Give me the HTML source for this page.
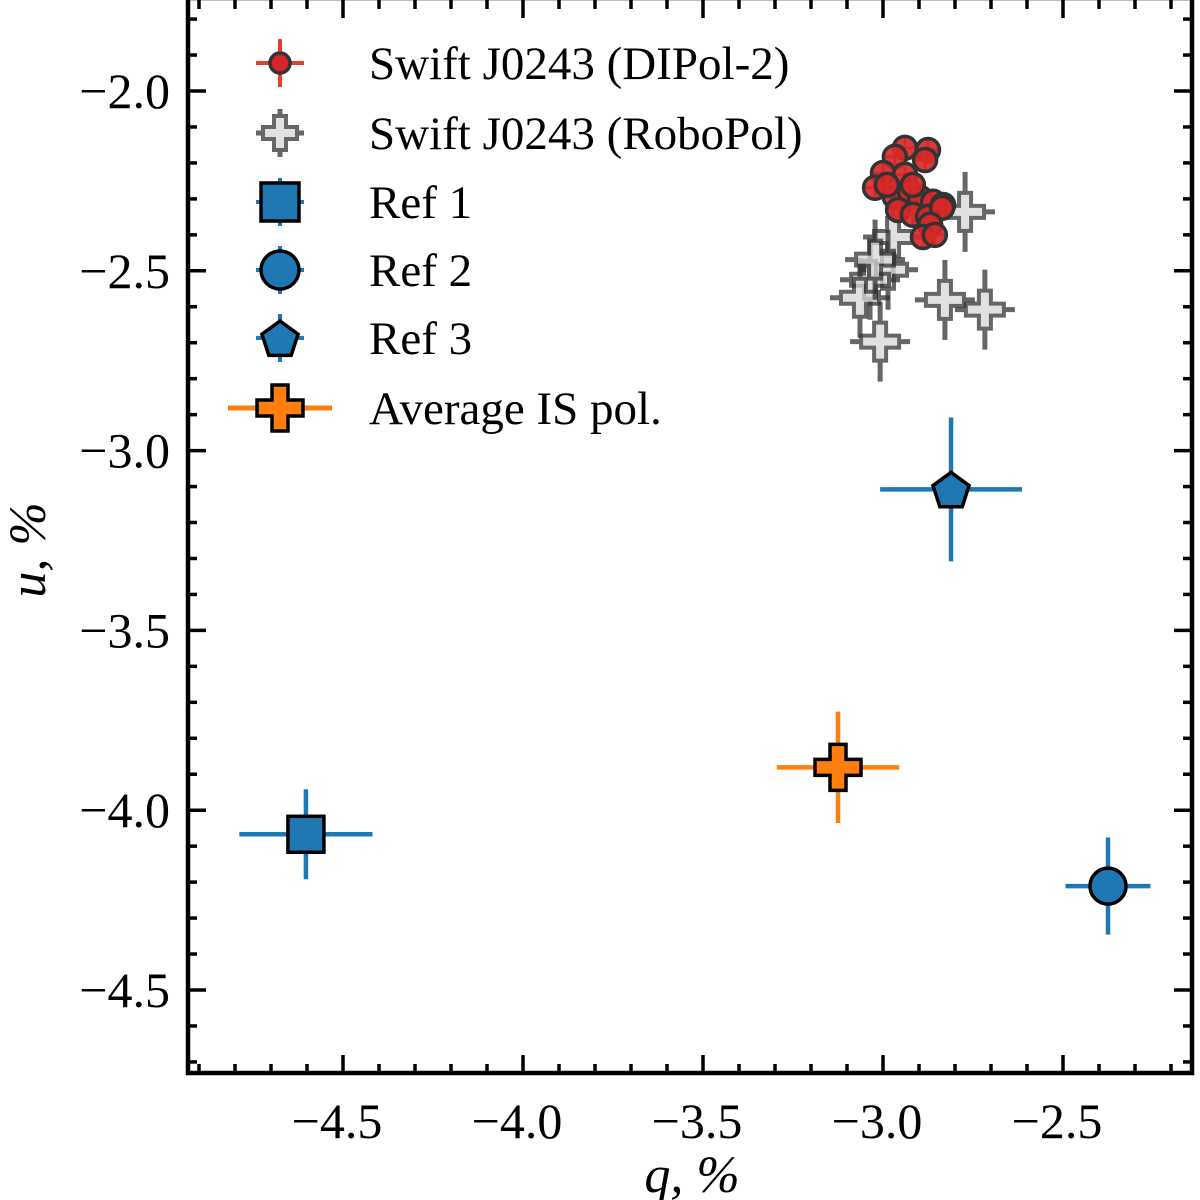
<!DOCTYPE html>
<html><head><meta charset="utf-8"><style>
html,body{margin:0;padding:0;background:#fff;}
svg{display:block;font-family:"Liberation Serif",serif;}
</style></head><body>
<svg id="chart" width="1200" height="1200" viewBox="0 0 1200 1200"></svg>
<script>
const dipolQ=[-2.939,-2.967,-2.875,-2.883,-3.0,-3.022,-2.939,-2.967,-2.925,-2.897,-2.861,-2.833,-2.958,-2.917,-2.875,-2.836,-2.869,-2.889,-2.856,-2.989,-2.917];
const dipolU=[-2.158,-2.183,-2.164,-2.192,-2.228,-2.269,-2.233,-2.294,-2.281,-2.297,-2.308,-2.317,-2.331,-2.344,-2.35,-2.325,-2.372,-2.406,-2.4,-2.261,-2.261];
const roboQ=[-2.772,-2.972,-2.986,-3.036,-3.064,-3.008,-2.828,-2.717,-3.022];
const roboU=[-2.336,-2.406,-2.497,-2.525,-2.575,-2.697,-2.581,-2.608,-2.469];
const refQ=[-4.603,-2.375,-2.811];
const refU=[-4.067,-4.211,-3.108];
const refQErr=[0.185,0.118,0.197];
const refUErr=[0.125,0.135,0.2];
const avgQ=[-3.125];
const avgU=[-3.881];
const avgQErr=[0.17];
const avgUErr=[0.155];
const xTicks=[-4.5,-4.0,-3.5,-3.0,-2.5];
const yTicks=[-2.0,-2.5,-3.0,-3.5,-4.0,-4.5];
const xTickLabels=["\u22124.5","\u22124.0","\u22123.5","\u22123.0","\u22122.5"];
const yTickLabels=["\u22122.0","\u22122.5","\u22123.0","\u22123.5","\u22124.0","\u22124.5"];
const legendLabels=["Swift J0243 (DIPol-2)","Swift J0243 (RoboPol)","Ref 1","Ref 2","Ref 3","Average IS pol."];

const L=188,R=1192,T=0,B=1073;
const xs=q=>343+(q+4.5)*360;
const ys=u=>91+(-2.0-u)*359.6;
const NS="http://www.w3.org/2000/svg";
const svg=document.getElementById('chart');
function el(tag,attrs,parent){const e=document.createElementNS(NS,tag);for(const k in attrs)e.setAttribute(k,attrs[k]);(parent||svg).appendChild(e);return e;}
function line(x1,y1,x2,y2,stroke,w,p){return el('line',{x1,y1,x2,y2,stroke,'stroke-width':w},p);}
function plusPts(cx,cy,a,b){return [[cx-b,cy-a],[cx+b,cy-a],[cx+b,cy-b],[cx+a,cy-b],[cx+a,cy+b],[cx+b,cy+b],[cx+b,cy+a],[cx-b,cy+a],[cx-b,cy+b],[cx-a,cy+b],[cx-a,cy-b],[cx-b,cy-b]].map(p=>p.join(',')).join(' ');}
function pentPts(cx,cy,r){let s=[];for(let i=0;i<5;i++){const a=-Math.PI/2+i*2*Math.PI/5;s.push((cx+r*Math.cos(a))+','+(cy+r*Math.sin(a)));}return s.join(' ');}

// ticks
const ticks=el('g',{});


for(let i=-49;i<=-22;i++){const q=i/10,x=xs(q);if(x<L||x>R)continue;const major=Math.abs(i%5)==0;const len=major?18:9;
 line(x,B,x,B-len,'#000',3.5,ticks);line(x,T,x,T+len,'#000',3.5,ticks);}
for(let i=-47;i<=-18;i++){const u=i/10,y=ys(u);if(y<T||y>B)continue;const major=Math.abs(i%5)==0;const len=major?18:9;
 line(L,y,L+len,y,'#000',3.5,ticks);line(R,y,R-len,y,'#000',3.5,ticks);}
xTicks.forEach((v,i)=>{const t=el('text',{x:xs(v)-6,y:1138,'font-size':50,'text-anchor':'middle'});t.textContent=xTickLabels[i];
 
 });
yTicks.forEach((v,i)=>{const t=el('text',{x:170,y:ys(v)+17,'font-size':50,'text-anchor':'end'});t.textContent=yTickLabels[i];
 
 });
const xl=el('text',{x:692,y:1192,'font-size':52,'font-style':'italic','text-anchor':'middle'});xl.textContent='q, %';


const yl=el('text',{x:0,y:0,'font-size':52,'font-style':'italic','text-anchor':'middle',transform:'translate(45,550) rotate(-90)'});yl.textContent='u, %';



// RoboPol
const gR=el('g',{});


roboQ.forEach((q,i)=>{const x=xs(q),y=ys(roboU[i]);const g=el('g',{opacity:0.75},gR);
 
 
 line(x-30,y,x+30,y,'#333',5,g);line(x,y-40,x,y+40,'#333',5,g);
 el('polygon',{points:plusPts(x,y,19,6),fill:'#d8d8d8',stroke:'#333','stroke-width':4},g);});
// DIPol
const gD=el('g',{});


dipolQ.forEach((q,i)=>{const x=xs(q),y=ys(dipolU[i]);const g=el('g',{},gD);
 
 
 line(x-13,y,x+13,y,'#e0402c',3,g);line(x,y-13,x,y+13,'#e0402c',3,g);
 el('circle',{cx:x,cy:y,r:11.5,fill:'#d62728','fill-opacity':0.9,stroke:'#333','stroke-width':3.5},g);});

// refs
const refNames=['ref-1-point','ref-2-point','ref-3-point'];
refQ.forEach((q,i)=>{const x=xs(q),y=ys(refU[i]);const g=el('g',{});
 
 
 line(xs(q-refQErr[i]),y,xs(q+refQErr[i]),y,'#1f77b4',4.5,g);line(x,ys(refU[i]+refUErr[i]),x,ys(refU[i]-refUErr[i]),'#1f77b4',4.5,g);
 if(i==0)el('rect',{x:x-18,y:y-18,width:36,height:36,fill:'#1f77b4',stroke:'#000','stroke-width':3.5},g);
 else if(i==1)el('circle',{cx:x,cy:y,r:18,fill:'#1f77b4',stroke:'#000','stroke-width':3.5},g);
 else el('polygon',{points:pentPts(x,y+2,19),fill:'#1f77b4',stroke:'#000','stroke-width':3.5},g);});
avgQ.forEach((q,i)=>{const x=xs(q),y=ys(avgU[i]);const g=el('g',{});
 
 
 line(xs(q-avgQErr[i]),y,xs(q+avgQErr[i]),y,'#ff7f0e',4.5,g);line(x,ys(avgU[i]+avgUErr[i]),x,ys(avgU[i]-avgUErr[i]),'#ff7f0e',4.5,g);
 el('polygon',{points:plusPts(x,y,23,8),fill:'#ff7f0e',stroke:'#000','stroke-width':3.5},g);});

// legend
const lg=el('g',{});


const ly=[63,133,202,270,338,408],lx=280;
legendLabels.forEach((lab,i)=>{const y=ly[i];const g=el('g',{},lg);
 
 
 if(i==0){line(lx-24,y,lx+24,y,'#e0402c',4,g);line(lx,y-24,lx,y+24,'#e0402c',4,g);el('circle',{cx:lx,cy:y,r:10,fill:'#d62728',stroke:'#333','stroke-width':3.5},g);}
 else if(i==1){const gg=el('g',{opacity:0.75},g);line(lx-24,y,lx+24,y,'#333',5,gg);line(lx,y-24,lx,y+24,'#333',5,gg);el('polygon',{points:plusPts(lx,y,17,6),fill:'#d8d8d8',stroke:'#333','stroke-width':4},gg);}
 else if(i<5){line(lx-24,y,lx+24,y,'#1f77b4',4,g);line(lx,y-24,lx,y+24,'#1f77b4',4,g);
  if(i==2)el('rect',{x:lx-19,y:y-19,width:38,height:38,fill:'#1f77b4',stroke:'#000','stroke-width':3.5},g);
  else if(i==3)el('circle',{cx:lx,cy:y,r:19,fill:'#1f77b4',stroke:'#000','stroke-width':3.5},g);
  else el('polygon',{points:pentPts(lx,y+2,19),fill:'#1f77b4',stroke:'#000','stroke-width':3.5},g);}
 else {line(lx-52,y,lx+52,y,'#ff7f0e',5,g);el('polygon',{points:plusPts(lx,y,23,8),fill:'#ff7f0e',stroke:'#000','stroke-width':3.5},g);}
 const t=el('text',{x:369,y:y+16,'font-size':47},g);t.textContent=lab;});

// frame
const fr=el('rect',{x:L,y:T-2,width:R-L,height:B-T+2,fill:'none',stroke:'#000','stroke-width':4.5});


</script>
</body></html>
